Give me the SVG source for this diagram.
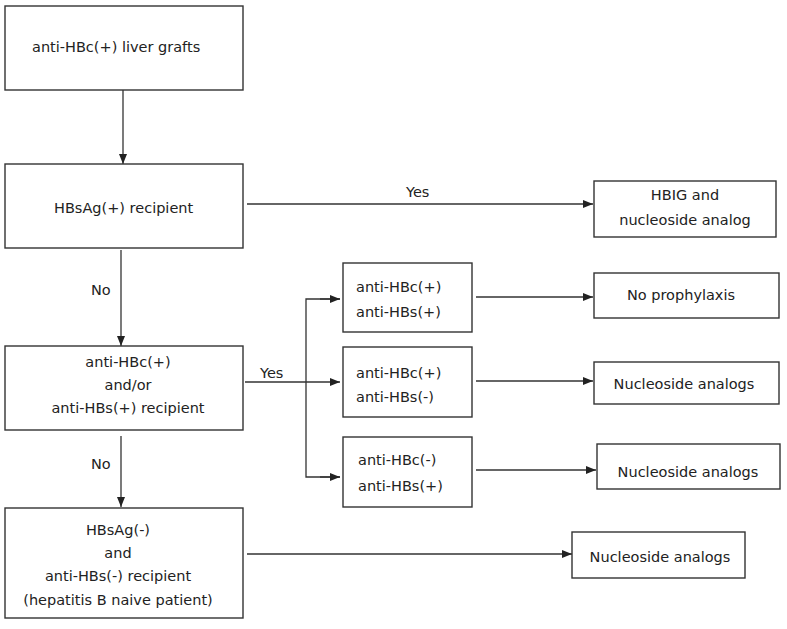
<svg xmlns="http://www.w3.org/2000/svg" width="787" height="629" viewBox="0 0 787 629">
<style>
.box{fill:#fff;stroke:#333;stroke-width:1.4}
.t{font-family:"DejaVu Sans",Verdana,sans-serif;font-size:14.5px;fill:#222}
.c{text-anchor:middle}
.ln{fill:none;stroke:#333;stroke-width:1.3}
</style>
<defs>
<marker id="ah" viewBox="0 0 10 8" refX="10" refY="4" markerWidth="10" markerHeight="8" markerUnits="userSpaceOnUse" orient="auto">
<path d="M0,0 L10,4 L0,8 z" fill="#222"/>
</marker>
</defs>
<rect width="787" height="629" fill="#fff"/>
<g id="connectors">
<line class="ln" x1="123" y1="90" x2="123" y2="164" marker-end="url(#ah)"/>
<line class="ln" x1="247" y1="204" x2="593" y2="204" marker-end="url(#ah)"/>
<text class="t" x="406" y="197">Yes</text>
<line class="ln" x1="121" y1="250" x2="121" y2="346" marker-end="url(#ah)"/>
<text class="t" x="91" y="295">No</text>
<line class="ln" x1="121" y1="436" x2="121" y2="507" marker-end="url(#ah)"/>
<text class="t" x="91" y="469">No</text>
<line class="ln" x1="245" y1="382" x2="340" y2="382" marker-end="url(#ah)"/>
<text class="t" x="260" y="378">Yes</text>
<polyline class="ln" points="340,299 306,299 306,477 340,477"/>
<line class="ln" x1="320" y1="299" x2="340" y2="299" marker-end="url(#ah)"/>
<line class="ln" x1="320" y1="477" x2="340" y2="477" marker-end="url(#ah)"/>
<line class="ln" x1="476" y1="297" x2="593" y2="297" marker-end="url(#ah)"/>
<line class="ln" x1="476" y1="381" x2="593" y2="381" marker-end="url(#ah)"/>
<line class="ln" x1="476" y1="470" x2="596" y2="470" marker-end="url(#ah)"/>
<line class="ln" x1="247" y1="554" x2="572" y2="554" marker-end="url(#ah)"/>
</g>
<g id="n1"><rect class="box" x="5" y="6" width="238" height="84"/><text class="t" x="32" y="52">anti-HBc(+) liver grafts</text></g>
<g id="n2"><rect class="box" x="5" y="164" width="238" height="84"/><text class="t" x="54" y="213">HBsAg(+) recipient</text></g>
<g id="n3"><rect class="box" x="5" y="346" width="238" height="84"/>
<text class="t c" x="128" y="367">anti-HBc(+)</text><text class="t c" x="128" y="390">and/or</text><text class="t c" x="128" y="413">anti-HBs(+) recipient</text></g>
<g id="n4"><rect class="box" x="5" y="508" width="238" height="110"/>
<text class="t c" x="118" y="535">HBsAg(-)</text><text class="t c" x="118" y="558">and</text><text class="t c" x="118" y="581">anti-HBs(-) recipient</text><text class="t c" x="118" y="605">(hepatitis B naive patient)</text></g>
<g id="n5"><rect class="box" x="594" y="181" width="182" height="56"/>
<text class="t c" x="685" y="200">HBIG and</text><text class="t c" x="685" y="225">nucleoside analog</text></g>
<g id="n6"><rect class="box" x="343" y="263" width="129" height="69"/>
<text class="t" x="356" y="292">anti-HBc(+)</text><text class="t" x="356" y="317">anti-HBs(+)</text></g>
<g id="n7"><rect class="box" x="343" y="347" width="129" height="70"/>
<text class="t" x="356" y="378">anti-HBc(+)</text><text class="t" x="356" y="402">anti-HBs(-)</text></g>
<g id="n8"><rect class="box" x="343" y="437" width="129" height="70"/>
<text class="t" x="358" y="465">anti-HBc(-)</text><text class="t" x="358" y="491">anti-HBs(+)</text></g>
<g id="n9"><rect class="box" x="594" y="273" width="185" height="45"/><text class="t c" x="681" y="300">No prophylaxis</text></g>
<g id="n10"><rect class="box" x="594" y="362" width="185" height="42"/><text class="t c" x="684" y="389">Nucleoside analogs</text></g>
<g id="n11"><rect class="box" x="597" y="444" width="183" height="45"/><text class="t c" x="688" y="477">Nucleoside analogs</text></g>
<g id="n12"><rect class="box" x="572" y="532" width="173" height="46"/><text class="t c" x="660" y="562">Nucleoside analogs</text></g>
</svg>
